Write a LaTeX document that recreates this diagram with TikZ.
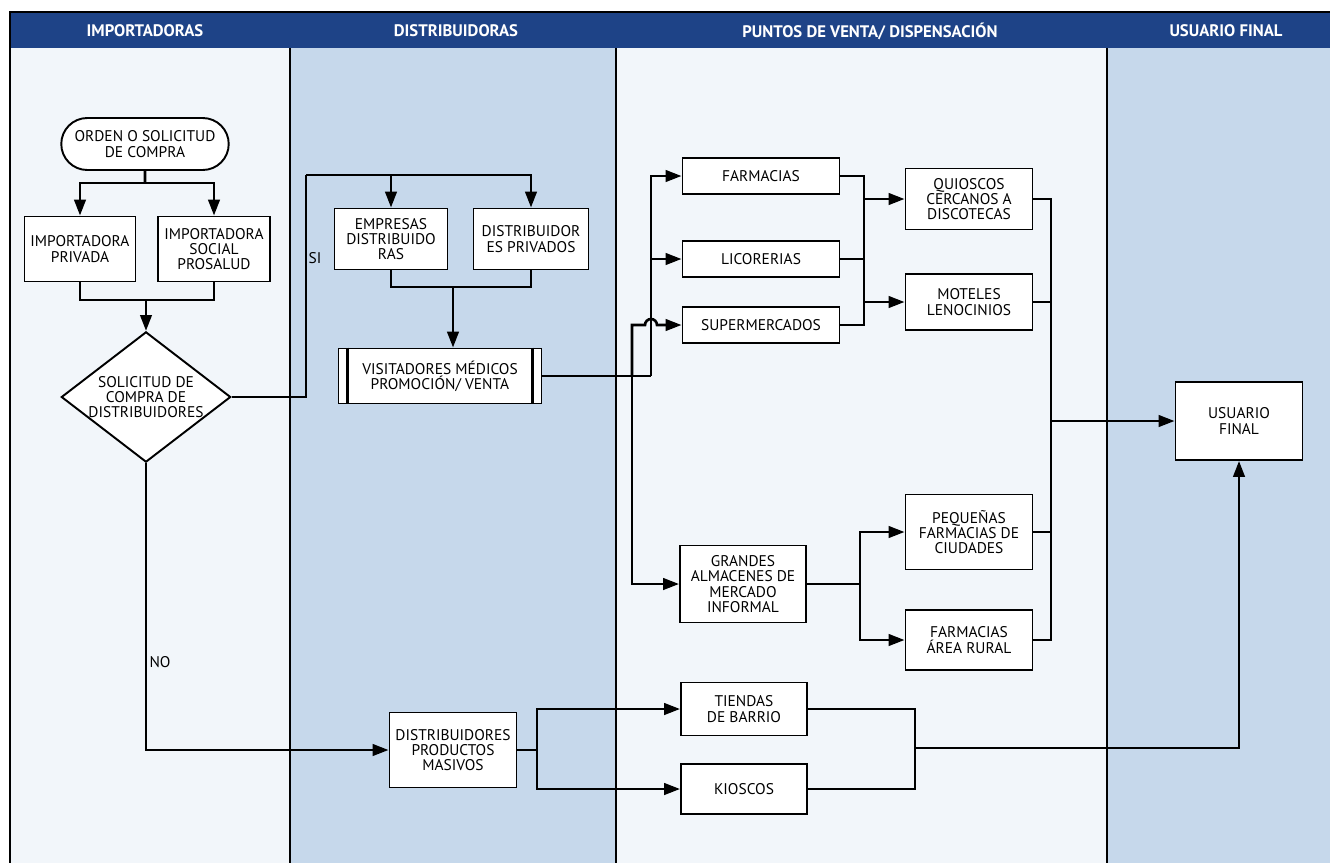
\documentclass[tikz,border=0pt]{standalone}
\usepackage{fontspec}
\setmainfont{PT Sans}
\usetikzlibrary{shapes.geometric,shapes.misc,arrows.meta}
\definecolor{HeaderBlue}{HTML}{1E4387}
\definecolor{LaneLight}{HTML}{F2F6FA}
\definecolor{LaneBlue}{HTML}{C6D8EB}

\begin{document}
\begin{tikzpicture}[
	x=0.02cm, y=-0.02cm,
	lane title/.style={
		text=white,
		font=\bfseries\fontsize{9.5}{11}\selectfont
	},
	box/.style={
		rectangle,
		draw=black,
		fill=white,
		line width=1.1pt,
		align=center,
		inner sep=1pt,
		font=\fontsize{8.8}{8.7}\selectfont
	},
	box size/.style 2 args={
		minimum width=#1cm,
		minimum height=#2cm
	},
	tag/.style={
		inner sep=1pt,
		font=\fontsize{8.8}{8.7}\selectfont
	},
	% Connector styles
	link/.style={
		draw=black,
		line width=1.5pt
	},
	flow/.style={
		link,
		-{Triangle[length=9pt,width=6.5pt]}
	}
	]
	\useasboundingbox (0,0) rectangle (1330,863);
	
	% ================= LANES =================
	\fill[LaneLight] (10,48) rectangle (290,863);
	\fill[LaneBlue] (290,48) rectangle (616,863);
	\fill[LaneLight] (616,48) rectangle (1107,863);
	\fill[LaneBlue] (1107,48) rectangle (1330,863);
	\fill[HeaderBlue] (10,12) rectangle (1330,48);
	\draw[line width=1.2pt] (1330,12) -- (10,12) -- (10,863);
	\draw[line width=1.2pt] (290,48) -- (290,863);
	\draw[line width=1.2pt] (616,48) -- (616,863);
	\draw[line width=1.2pt] (1107,48) -- (1107,863);
	
	\node[lane title] (h1) at (145,31) {IMPORTADORAS};
	\node[lane title] (h2) at (456,31) {DISTRIBUIDORAS};
	\node[lane title] (h3) at (870,31) {PUNTOS DE VENTA/ DISPENSACIÓN};
	\node[lane title] (h4) at (1226,31) {USUARIO FINAL};
	
	% ================= NODES =================
	\node[box, rounded rectangle, box size={3.42}{1.04}] (orden) at (145,144) {ORDEN O SOLICITUD\\DE COMPRA};
	\node[box, box size={2.22}{1.3}] (impriv) at (80,249) {IMPORTADORA\\PRIVADA};
	\node[box, box size={2.24}{1.3}] (impsoc) at (214,249) {IMPORTADORA\\SOCIAL\\PROSALUD};
	\node[box, diamond, aspect=1.3, inner sep=0pt, box size={3.32}{2.54}] (dec) at (146,397) {SOLICITUD DE\\COMPRA DE\\DISTRIBUIDORES};
	
	\node[box, box size={2.26}{1.22}] (empresas) at (391,239) {EMPRESAS\\DISTRIBUIDO\\RAS};
	\node[box, box size={2.3}{1.22}] (distpriv) at (531,239) {DISTRIBUIDOR\\ES PRIVADOS};
	\node[box, box size={4.06}{1.1}] (visit) at (440,376) {VISITADORES MÉDICOS\\PROMOCIÓN/ VENTA};
	\node[box, box size={2.54}{1.5}] (dpm) at (453,750) {DISTRIBUIDORES\\PRODUCTOS\\MASIVOS};
	
	\node[box, box size={3.14}{0.72}] (farm) at (761,176) {FARMACIAS};
	\node[box, box size={3.14}{0.72}] (lic) at (761,259) {LICORERIAS};
	\node[box, box size={3.14}{0.72}] (super) at (761,325) {SUPERMERCADOS};
	\node[box, box size={2.54}{1.22}] (quios) at (969,199) {QUIOSCOS\\CERCANOS A\\DISCOTECAS};
	\node[box, box size={2.54}{1.12}] (motel) at (969,302) {MOTELES\\LENOCINIOS};
	\node[box, box size={2.52}{1.54}] (grandes) at (743,584) {GRANDES\\ALMACENES DE\\MERCADO\\INFORMAL};
	\node[box, box size={2.54}{1.5}] (peq) at (969,532) {PEQUEÑAS\\FARMACIAS DE\\CIUDADES};
	\node[box, box size={2.54}{1.2}] (rural) at (969,640) {FARMACIAS\\ÁREA RURAL};
	\node[box, box size={2.52}{1.06}] (tiendas) at (744,709) {TIENDAS\\DE BARRIO};
	\node[box, box size={2.52}{1.0}] (kiosc) at (744,789) {KIOSCOS};
	
	\node[box, box size={2.54}{1.56}] (usuario) at (1239,421) {USUARIO\\FINAL};
	
	\node[tag] (si) at (315,258) {SI};
	\node[tag] (no) at (160,662) {NO};
	
	% ================= EDGES =================
	\coordinate (s1) at (145,183);
	\coordinate (j1) at (146,300);
	\coordinate (si1) at (306,175);
	\coordinate (j2) at (453,287);
	\coordinate (t1) at (651,376);
	\coordinate (t2) at (632,376);
	\coordinate (bus1) at (864,259);
	\coordinate (bus2) at (1051,421);
	\coordinate (bus3) at (860,584);
	\coordinate (bus4) at (537,750);
	\coordinate (bus5) at (915,748);
	
	\draw[link] (orden) -- (s1);
	\draw[flow] (s1) -| (impriv);
	\draw[flow] (s1) -| (impsoc);
	\draw[link] (impriv) |- (j1);
	\draw[link] (impsoc) |- (j1);
	\draw[flow] (j1) -- (dec);
	
	\draw[link] (dec.east) -| (si1);
	\draw[flow] (si1) -| (empresas);
	\draw[flow] (si1) -| (distpriv);
	\draw[link] (empresas) |- (j2);
	\draw[link] (distpriv) |- (j2);
	\draw[flow] (j2) -- (j2 |- visit.north);
	
	\draw[link] (visit.east) -- (t1);
	\draw[flow] (t1) |- (farm);
	\draw[flow] (t1) |- (lic);
	\draw[flow] (t2) |- ([xshift=-0.12cm]t1 |- super.west)
		arc[start angle=180, end angle=0, radius=3.4pt] -- (super.west);
	\draw[flow] (t2) |- (grandes);
	
	\draw[link] (farm.east) -| (bus1) |- (super.east);
	\draw[link] (lic.east) -- (bus1);
	\draw[flow] (bus1 |- quios.west) -- (quios.west);
	\draw[flow] (bus1 |- motel.west) -- (motel.west);
	
	\draw[link] (grandes.east) -- (bus3);
	\draw[flow] (bus3) |- (peq.west);
	\draw[flow] (bus3) |- (rural.west);
	
	\draw[link] (quios.east) -| (rural.east -| bus2) -- (rural.east);
	\draw[link] (motel.east) -- (motel.east -| bus2);
	\draw[link] (peq.east) -- (peq.east -| bus2);
	\draw[flow] (bus2) -- (usuario.west);
	
	\draw[flow] (dec.south) |- (dpm.west);
	\draw[link] (dpm.east) -- (bus4);
	\draw[flow] (bus4) |- (tiendas.west);
	\draw[flow] (bus4) |- (kiosc.west);
	\draw[link] (tiendas.east) -| (bus5) |- (kiosc.east);
	\draw[flow] (bus5) -| (usuario.south);
	
	% predefined process bars
	\draw[line width=1.6pt] ([xshift=0.2cm]visit.north west) -- ([xshift=0.2cm]visit.south west);
	\draw[line width=1.6pt] ([xshift=-0.2cm]visit.north east) -- ([xshift=-0.2cm]visit.south east);
	
\end{tikzpicture}
\end{document}
